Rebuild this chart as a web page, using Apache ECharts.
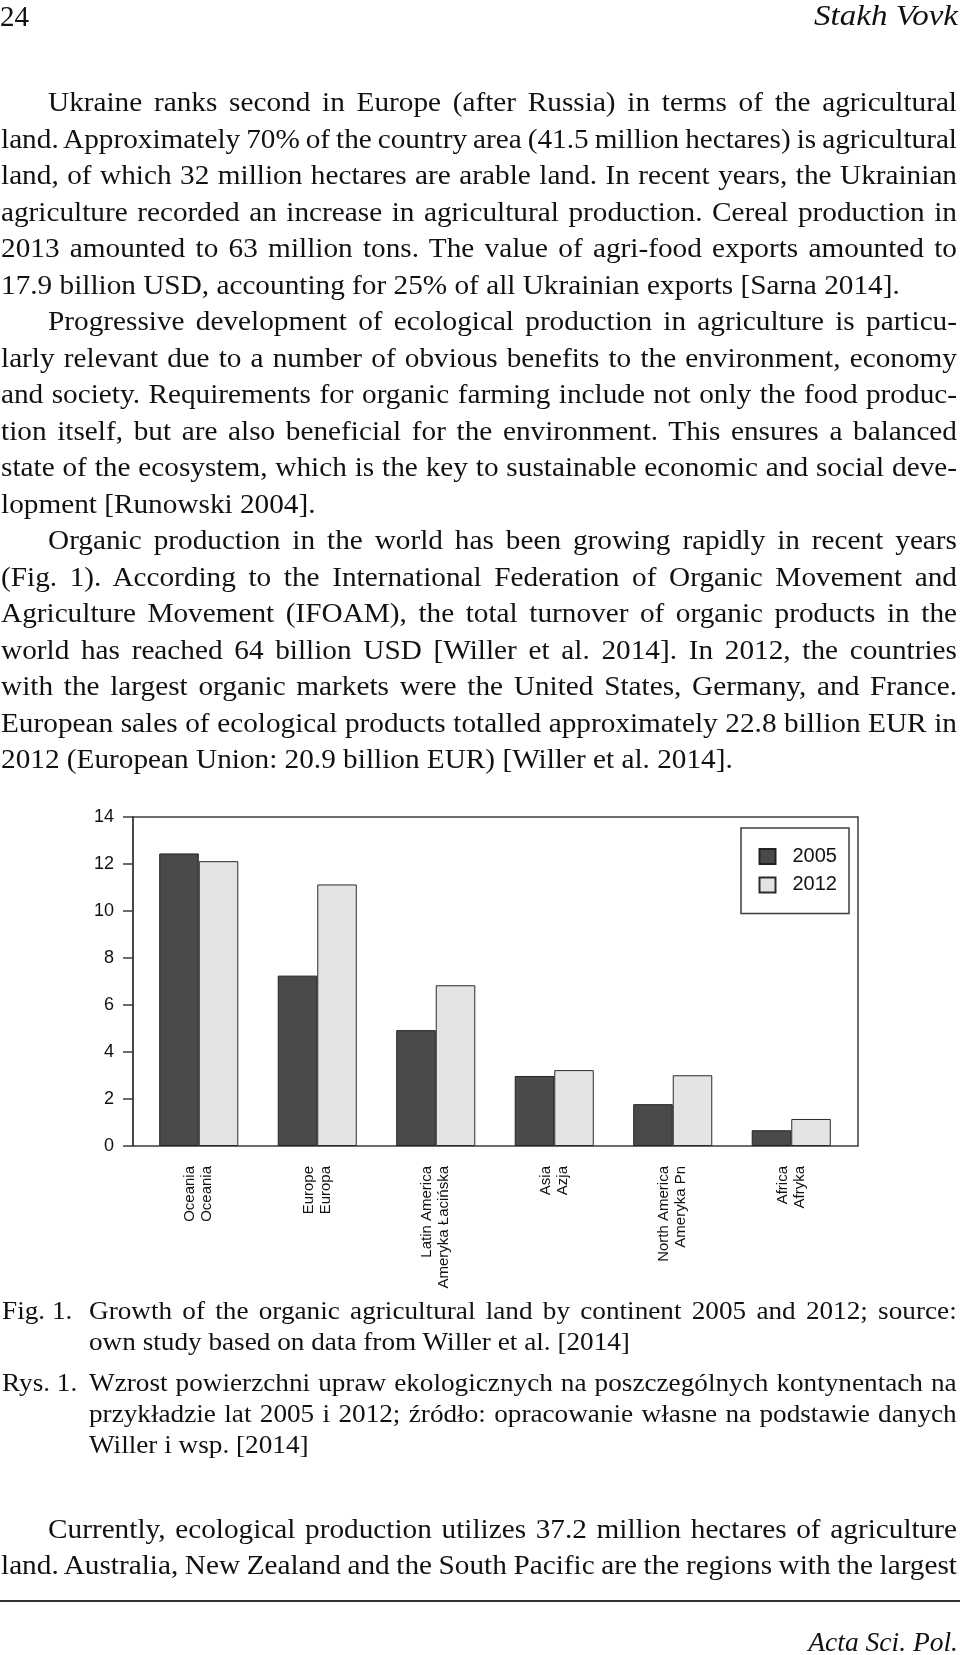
<!DOCTYPE html>
<html><head><meta charset="utf-8">
<script src="https://cdn.jsdelivr.net/npm/echarts@6/dist/echarts.min.js"></script>
<style>
html,body{margin:0;padding:0;background:#fff;}
body{width:960px;height:1655px;position:relative;overflow:hidden;}
#chart{position:absolute;left:0;top:0;width:960px;height:1655px;}
.ln{position:absolute;left:0;white-space:pre;font-family:"Liberation Serif","Times New Roman",serif;color:#111;transform-origin:0 0;}
.rule{position:absolute;left:0;width:960px;top:1600px;height:1.5px;background:#333;}
</style></head><body>
<div id="chart"></div>
<div class="rule"></div>
<script>
// ---- chart data ----
const categoriesEn = ['Oceania', 'Europe', 'Latin America', 'Asia', 'North America', 'Africa'];
const categoriesPl = ['Oceania', 'Europa', 'Ameryka Łacińska', 'Azja', 'Ameryka Pn', 'Afryka'];
const seriesNames = ['2005', '2012'];
const values2005 = [12.45, 7.25, 4.93, 2.98, 1.78, 0.67];
const values2012 = [12.12, 11.13, 6.84, 3.23, 3.01, 1.15];
const yMin = 0, yMax = 14, yInterval = 2;

const categories = categoriesEn.map((c, i) => c + '\n' + categoriesPl[i]);
const sans = '"Liberation Sans", Arial, Helvetica, sans-serif';
const frameColor = '#3c3c3c';

const chart = echarts.init(document.getElementById('chart'), null, {renderer: 'canvas'});
chart.setOption({
  animation: false,
  grid: [
    {left: 133, top: 817, width: 725, height: 329, show: true, borderColor: frameColor, borderWidth: 1.5, backgroundColor: 'transparent'},
    {left: 139.5, top: 817, width: 711, height: 329}
  ],
  xAxis: [
    {gridIndex: 0, type: 'value', min: 0, max: 1, show: false},
    {gridIndex: 1, type: 'category', data: categories,
     axisLine: {show: false}, axisTick: {show: false}, splitLine: {show: false},
     axisLabel: {rotate: 90, margin: 20, interval: 0, fontSize: 15, lineHeight: 17, color: '#111', fontFamily: sans}}
  ],
  yAxis: [
    {gridIndex: 0, type: 'value', min: yMin, max: yMax, interval: yInterval,
     axisLine: {show: true, lineStyle: {color: frameColor, width: 1.5}},
     axisTick: {show: true, length: 10, lineStyle: {color: frameColor, width: 1.5}},
     splitLine: {show: false},
     axisLabel: {fontSize: 18, margin: 19, color: '#111', fontFamily: sans}},
    {gridIndex: 1, type: 'value', min: yMin, max: yMax, show: false}
  ],
  legend: {
    left: 741, top: 828, orient: 'vertical', icon: 'rect',
    itemWidth: 16, itemHeight: 15, itemGap: 8.4,
    padding: [18.5, 12, 18.5, 17.5],
    borderColor: frameColor, borderWidth: 1.5,
    textStyle: {fontSize: 20, color: '#111', fontFamily: sans, padding: [0, 0, 0, 12]},
    data: seriesNames
  },
  series: [
    {name: seriesNames[0], type: 'bar', xAxisIndex: 1, yAxisIndex: 1, data: values2005,
     barGap: '0%', barCategoryGap: '33.3%',
     itemStyle: {color: '#4a4a4a', borderColor: '#222', borderWidth: 1}},
    {name: seriesNames[1], type: 'bar', xAxisIndex: 1, yAxisIndex: 1, data: values2012,
     barGap: '0%', barCategoryGap: '33.3%',
     itemStyle: {color: '#e4e4e4', borderColor: '#2a2a2a', borderWidth: 1}}
  ]
});

// ---- page text ----
function addText(text, opt) {
  const d = document.createElement('div');
  d.className = 'ln';
  d.textContent = text;
  const fs = opt.size;
  const s = opt.sx || 1;
  d.style.fontSize = fs + 'px';
  d.style.lineHeight = (fs * 1.2) + 'px';
  d.style.top = (opt.base - 0.9375 * fs) + 'px';
  if (opt.italic) d.style.fontStyle = 'italic';
  document.body.appendChild(d);
  const w = d.getBoundingClientRect().width; // unscaled
  if (s !== 1) d.style.transform = 'scaleX(' + s + ')';
  if (opt.right !== undefined) {
    d.style.left = (opt.right - w * s) + 'px';
  } else {
    d.style.left = opt.x + 'px';
    if (opt.to !== undefined) {
      const n = (text.match(/ /g) || []).length;
      if (n) d.style.wordSpacing = ((opt.to - opt.x - w * s) / (n * s)) + 'px';
    }
  }
}

const bodySize = 28, bodySx = 1.045;
const capSize = 25.5, capSx = 1.067;

// header
addText('24', {x: 0, base: 26, size: 29});
addText('Stakh Vovk', {right: 958, base: 26, size: 29.5, italic: true, sx: 1.12});

// body paragraphs: [text, indent, justify]
const body = [
  ['Ukraine ranks second in Europe (after Russia) in terms of the agricultural', 1, 1],
  ['land. Approximately 70% of the country area (41.5 million hectares) is agricultural', 0, 1],
  ['land, of which 32 million hectares are arable land. In recent years, the Ukrainian', 0, 1],
  ['agriculture recorded an increase in agricultural production. Cereal production in', 0, 1],
  ['2013 amounted to 63 million tons. The value of agri-food exports amounted to', 0, 1],
  ['17.9 billion USD, accounting for 25% of all Ukrainian exports [Sarna 2014].', 0, 0],
  ['Progressive development of ecological production in agriculture is particu-', 1, 1],
  ['larly relevant due to a number of obvious benefits to the environment, economy', 0, 1],
  ['and society. Requirements for organic farming include not only the food produc-', 0, 1],
  ['tion itself, but are also beneficial for the environment. This ensures a balanced', 0, 1],
  ['state of the ecosystem, which is the key to sustainable economic and social deve-', 0, 1],
  ['lopment [Runowski 2004].', 0, 0],
  ['Organic production in the world has been growing rapidly in recent years', 1, 1],
  ['(Fig. 1). According to the International Federation of Organic Movement and', 0, 1],
  ['Agriculture Movement (IFOAM), the total turnover of organic products in the', 0, 1],
  ['world has reached 64 billion USD [Willer et al. 2014]. In 2012, the countries', 0, 1],
  ['with the largest organic markets were the United States, Germany, and France.', 0, 1],
  ['European sales of ecological products totalled approximately 22.8 billion EUR in', 0, 1],
  ['2012 (European Union: 20.9 billion EUR) [Willer et al. 2014].', 0, 0]
];
body.forEach((l, i) => {
  const o = {x: l[1] ? 48 : 1, base: 111.7 + i * 36.5, size: bodySize, sx: bodySx};
  if (l[2]) o.to = 957;
  addText(l[0], o);
});

// caption
addText('Fig. 1.', {x: 2, base: 1320, size: capSize, sx: capSx});
addText('Growth of the organic agricultural land by continent 2005 and 2012; source:', {x: 89.3, to: 957, base: 1320, size: capSize, sx: capSx});
addText('own study based on data from Willer et al. [2014]', {x: 89.3, base: 1351, size: capSize, sx: capSx});
addText('Rys. 1.', {x: 2, base: 1391.7, size: capSize, sx: capSx});
addText('Wzrost powierzchni upraw ekologicznych na poszczególnych kontynentach na', {x: 89.3, to: 957, base: 1391.7, size: capSize, sx: capSx});
addText('przykładzie lat 2005 i 2012; źródło: opracowanie własne na podstawie danych', {x: 89.3, to: 957, base: 1422.7, size: capSize, sx: capSx});
addText('Willer i wsp. [2014]', {x: 89.3, base: 1453.7, size: capSize, sx: capSx});

// trailing text
addText('Currently, ecological production utilizes 37.2 million hectares of agriculture', {x: 48, to: 957, base: 1538, size: bodySize, sx: bodySx});
addText('land. Australia, New Zealand and the South Pacific are the regions with the largest', {x: 1, to: 957, base: 1574, size: bodySize, sx: bodySx});

// footer
addText('Acta Sci. Pol.', {right: 958, base: 1651, size: 27.5, italic: true});
</script>
</body></html>
